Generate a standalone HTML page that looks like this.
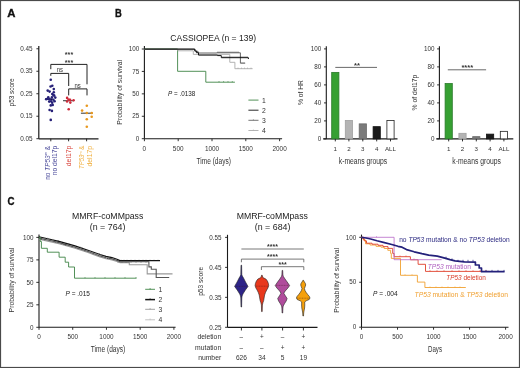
<!DOCTYPE html><html><head><meta charset="utf-8"><style>html,body{margin:0;padding:0;background:#fff;overflow:hidden}svg{display:block;will-change:transform}text{font-family:"Liberation Sans",sans-serif}</style></head><body>
<svg width="520" height="368" viewBox="0 0 520 368">
<rect x="0" y="0" width="520" height="368" fill="#fff"/>
<text x="7.30" y="16.50" font-size="11.6" fill="#111" textLength="8.2" lengthAdjust="spacingAndGlyphs" font-weight="bold" stroke="#111" stroke-width="0.35">A</text>
<text x="115.00" y="16.60" font-size="11.6" fill="#111" textLength="6.8" lengthAdjust="spacingAndGlyphs" font-weight="bold" stroke="#111" stroke-width="0.35">B</text>
<text x="7.40" y="205.00" font-size="11.6" fill="#111" textLength="7.0" lengthAdjust="spacingAndGlyphs" font-weight="bold" stroke="#111" stroke-width="0.35">C</text>
<line x1="38.80" y1="46.00" x2="38.80" y2="138.80" stroke="#1a1a1a" stroke-width="1.2" />
<line x1="38.80" y1="138.80" x2="98.50" y2="138.80" stroke="#1a1a1a" stroke-width="1.2" />
<line x1="36.40" y1="48.78" x2="38.80" y2="48.78" stroke="#1a1a1a" stroke-width="0.9" />
<text x="32.60" y="50.88" font-size="6.5" fill="#333" text-anchor="end" textLength="12.4" lengthAdjust="spacingAndGlyphs" >0.45</text>
<line x1="36.40" y1="71.26" x2="38.80" y2="71.26" stroke="#1a1a1a" stroke-width="0.9" />
<text x="32.60" y="73.36" font-size="6.5" fill="#333" text-anchor="end" textLength="12.4" lengthAdjust="spacingAndGlyphs" >0.35</text>
<line x1="36.40" y1="93.74" x2="38.80" y2="93.74" stroke="#1a1a1a" stroke-width="0.9" />
<text x="32.60" y="95.84" font-size="6.5" fill="#333" text-anchor="end" textLength="12.4" lengthAdjust="spacingAndGlyphs" >0.25</text>
<line x1="36.40" y1="116.22" x2="38.80" y2="116.22" stroke="#1a1a1a" stroke-width="0.9" />
<text x="32.60" y="118.32" font-size="6.5" fill="#333" text-anchor="end" textLength="12.4" lengthAdjust="spacingAndGlyphs" >0.15</text>
<line x1="36.40" y1="138.70" x2="38.80" y2="138.70" stroke="#1a1a1a" stroke-width="0.9" />
<text x="32.60" y="140.80" font-size="6.5" fill="#333" text-anchor="end" textLength="12.4" lengthAdjust="spacingAndGlyphs" >0.05</text>
<line x1="50.80" y1="138.70" x2="50.80" y2="141.30" stroke="#1a1a1a" stroke-width="0.9" />
<line x1="68.60" y1="138.70" x2="68.60" y2="141.30" stroke="#1a1a1a" stroke-width="0.9" />
<line x1="86.60" y1="138.70" x2="86.60" y2="141.30" stroke="#1a1a1a" stroke-width="0.9" />
<text transform="translate(14.00,92.40) rotate(-90)" font-size="8.0" fill="#2a2a2a" text-anchor="middle" textLength="28" lengthAdjust="spacingAndGlyphs" >p53 score</text>
<path d="M50.8,69.2V64.4H87V84.3" stroke="#222" stroke-width="1.0" fill="none" />
<path d="M50.8,75.8V73.4H68.7V86" stroke="#222" stroke-width="1.0" fill="none" />
<path d="M68.7,95.4V88.9H87V95.4" stroke="#222" stroke-width="1.0" fill="none" />
<text x="69.00" y="56.50" font-size="8" fill="#333" text-anchor="middle" textLength="8.3" lengthAdjust="spacingAndGlyphs" font-weight="bold" >***</text>
<text x="69.00" y="64.70" font-size="8" fill="#333" text-anchor="middle" textLength="8.3" lengthAdjust="spacingAndGlyphs" font-weight="bold" >***</text>
<text x="59.90" y="71.80" font-size="7.2" fill="#333" text-anchor="middle" textLength="6.3" lengthAdjust="spacingAndGlyphs" >ns</text>
<text x="77.70" y="88.00" font-size="7.2" fill="#333" text-anchor="middle" textLength="6.3" lengthAdjust="spacingAndGlyphs" >ns</text>
<path d="M45,99.2H52.6" stroke="#1a1a3a" stroke-width="1.6"/>
<circle cx="50.75" cy="79.8" r="1.3" fill="#262078"/>
<circle cx="50.6" cy="86.5" r="1.3" fill="#262078"/>
<circle cx="52.3" cy="85.7" r="1.3" fill="#262078"/>
<circle cx="53.8" cy="89.1" r="1.3" fill="#262078"/>
<circle cx="47.7" cy="90.6" r="1.3" fill="#262078"/>
<circle cx="49.6" cy="91.6" r="1.3" fill="#262078"/>
<circle cx="53.8" cy="92.2" r="1.3" fill="#262078"/>
<circle cx="52.3" cy="94.1" r="1.3" fill="#262078"/>
<circle cx="54.2" cy="95.6" r="1.3" fill="#262078"/>
<circle cx="53.4" cy="95.1" r="1.3" fill="#262078"/>
<circle cx="55.3" cy="97.6" r="1.3" fill="#262078"/>
<circle cx="51.9" cy="97.4" r="1.3" fill="#262078"/>
<circle cx="49.6" cy="99.3" r="1.3" fill="#262078"/>
<circle cx="53.4" cy="99.7" r="1.3" fill="#262078"/>
<circle cx="49.2" cy="101.6" r="1.3" fill="#262078"/>
<circle cx="51.1" cy="101.2" r="1.3" fill="#262078"/>
<circle cx="47.5" cy="98.8" r="1.3" fill="#262078"/>
<circle cx="46.2" cy="99.2" r="1.3" fill="#262078"/>
<circle cx="50.75" cy="105.4" r="1.3" fill="#262078"/>
<circle cx="52.7" cy="105" r="1.3" fill="#262078"/>
<circle cx="49.6" cy="110" r="1.3" fill="#262078"/>
<circle cx="51.9" cy="110.9" r="1.3" fill="#262078"/>
<circle cx="50.75" cy="119.9" r="1.3" fill="#262078"/>
<circle cx="48.3" cy="97.2" r="1.3" fill="#262078"/>
<circle cx="52.2" cy="102.8" r="1.3" fill="#262078"/>
<circle cx="54.6" cy="101.2" r="1.3" fill="#262078"/>
<path d="M63,100.7H74" stroke="#444" stroke-width="1.1"/>
<circle cx="67.1" cy="97.9" r="1.3" fill="#cf2a3a"/>
<circle cx="70.1" cy="99.9" r="1.3" fill="#cf2a3a"/>
<circle cx="73.6" cy="100.2" r="1.3" fill="#cf2a3a"/>
<circle cx="67.1" cy="101.5" r="1.3" fill="#cf2a3a"/>
<circle cx="70.3" cy="102.6" r="1.3" fill="#cf2a3a"/>
<circle cx="68.7" cy="109.3" r="1.3" fill="#cf2a3a"/>
<circle cx="68.6" cy="99.6" r="1.3" fill="#cf2a3a"/>
<path d="M80.9,113.2H92.7" stroke="#444" stroke-width="1.1"/>
<circle cx="86.8" cy="105.7" r="1.3" fill="#e8981e"/>
<circle cx="82.1" cy="110.6" r="1.3" fill="#e8981e"/>
<circle cx="86.8" cy="113" r="1.3" fill="#e8981e"/>
<circle cx="91.7" cy="113" r="1.3" fill="#e8981e"/>
<circle cx="91.7" cy="116.7" r="1.3" fill="#e8981e"/>
<circle cx="86.8" cy="119.3" r="1.3" fill="#e8981e"/>
<circle cx="86.8" cy="126.7" r="1.3" fill="#e8981e"/>
<text transform="translate(49.70,145.80) rotate(-90)" font-size="6.4" fill="#4b4b9b" text-anchor="end" textLength="34.0" lengthAdjust="spacingAndGlyphs" >no <tspan font-style="italic">TP53</tspan><tspan font-size="4" dy="-2.5">m</tspan><tspan dy="2.5"> &amp;</tspan></text>
<text transform="translate(57.20,145.80) rotate(-90)" font-size="6.4" fill="#4b4b9b" text-anchor="end" textLength="29.4" lengthAdjust="spacingAndGlyphs" >no del17p</text>
<text transform="translate(71.00,145.60) rotate(-90)" font-size="6.4" fill="#d9473f" text-anchor="end" textLength="20.7" lengthAdjust="spacingAndGlyphs" >del17p</text>
<text transform="translate(84.00,145.80) rotate(-90)" font-size="6.4" fill="#f0b040" text-anchor="end" textLength="23.1" lengthAdjust="spacingAndGlyphs" ><tspan font-style="italic">TP53</tspan><tspan font-size="4" dy="-2.5">m</tspan><tspan dy="2.5"> &amp;</tspan></text>
<text transform="translate(92.20,145.80) rotate(-90)" font-size="6.4" fill="#f0b040" text-anchor="end" textLength="20.8" lengthAdjust="spacingAndGlyphs" >del17p</text>
<text x="213.20" y="41.20" font-size="8.6" fill="#222" text-anchor="middle" textLength="85.8" lengthAdjust="spacingAndGlyphs" >CASSIOPEA (n = 139)</text>
<line x1="144.40" y1="46.10" x2="144.40" y2="138.70" stroke="#1a1a1a" stroke-width="1.1" />
<line x1="144.40" y1="138.70" x2="282.10" y2="138.70" stroke="#1a1a1a" stroke-width="1.1" />
<line x1="141.80" y1="49.00" x2="144.40" y2="49.00" stroke="#1a1a1a" stroke-width="0.9" />
<text x="139.20" y="51.20" font-size="6.3" fill="#333" text-anchor="end" >100</text>
<line x1="141.80" y1="71.42" x2="144.40" y2="71.42" stroke="#1a1a1a" stroke-width="0.9" />
<text x="139.20" y="73.62" font-size="6.3" fill="#333" text-anchor="end" >75</text>
<line x1="141.80" y1="93.85" x2="144.40" y2="93.85" stroke="#1a1a1a" stroke-width="0.9" />
<text x="139.20" y="96.05" font-size="6.3" fill="#333" text-anchor="end" >50</text>
<line x1="141.80" y1="116.27" x2="144.40" y2="116.27" stroke="#1a1a1a" stroke-width="0.9" />
<text x="139.20" y="118.47" font-size="6.3" fill="#333" text-anchor="end" >25</text>
<line x1="141.80" y1="138.70" x2="144.40" y2="138.70" stroke="#1a1a1a" stroke-width="0.9" />
<text x="139.20" y="140.90" font-size="6.3" fill="#333" text-anchor="end" >0</text>
<line x1="144.40" y1="138.80" x2="144.40" y2="141.20" stroke="#1a1a1a" stroke-width="0.9" />
<text x="144.40" y="151.00" font-size="6.4" fill="#333" text-anchor="middle" >0</text>
<line x1="178.20" y1="138.80" x2="178.20" y2="141.20" stroke="#1a1a1a" stroke-width="0.9" />
<text x="178.20" y="151.00" font-size="6.4" fill="#333" text-anchor="middle" >500</text>
<line x1="212.00" y1="138.80" x2="212.00" y2="141.20" stroke="#1a1a1a" stroke-width="0.9" />
<text x="212.00" y="151.00" font-size="6.4" fill="#333" text-anchor="middle" >1000</text>
<line x1="245.80" y1="138.80" x2="245.80" y2="141.20" stroke="#1a1a1a" stroke-width="0.9" />
<text x="245.80" y="151.00" font-size="6.4" fill="#333" text-anchor="middle" >1500</text>
<line x1="279.60" y1="138.80" x2="279.60" y2="141.20" stroke="#1a1a1a" stroke-width="0.9" />
<text x="279.60" y="151.00" font-size="6.4" fill="#333" text-anchor="middle" >2000</text>
<text x="213.70" y="163.50" font-size="8.4" fill="#333" text-anchor="middle" textLength="34.4" lengthAdjust="spacingAndGlyphs" >Time (days)</text>
<text transform="translate(121.60,92.30) rotate(-90)" font-size="8.0" fill="#333" text-anchor="middle" textLength="64.8" lengthAdjust="spacingAndGlyphs" >Probability of survival</text>
<text x="168.00" y="95.60" font-size="6.3" fill="#222" textLength="27.2" lengthAdjust="spacingAndGlyphs" ><tspan font-style="italic">P</tspan> = .0138</text>
<path d="M144.4,49.0H177.6V71.3H205.8V82.2H234.9" stroke="#3f8446" stroke-width="0.9" fill="none" />
<path d="M144.4,49.4H177.8V50.8H193.3V54.4H229.8V62.3H234.9V68.7H252.6" stroke="#aaa" stroke-width="0.9" fill="none" />
<path d="M144.4,49.4H195.2V51.3H198V53.0H216.7V52.8H240.4V63.2H245.2" stroke="#555" stroke-width="0.9" fill="none" />
<path d="M144.4,49.0H194.7V50.9H196.4V52.7H198.5V55.1H217.5V55.6H221.3V57.7H248.4V59.0" stroke="#111" stroke-width="1.0" fill="none" />
<line x1="219.00" y1="81.00" x2="219.00" y2="82.20" stroke="#3f8446" stroke-width="0.6" />
<line x1="223.60" y1="81.00" x2="223.60" y2="82.20" stroke="#3f8446" stroke-width="0.6" />
<line x1="228.00" y1="81.00" x2="228.00" y2="82.20" stroke="#3f8446" stroke-width="0.6" />
<line x1="232.30" y1="81.00" x2="232.30" y2="82.20" stroke="#3f8446" stroke-width="0.6" />
<line x1="218.00" y1="51.50" x2="218.00" y2="52.80" stroke="#333" stroke-width="0.7" />
<line x1="220.00" y1="51.50" x2="220.00" y2="52.80" stroke="#333" stroke-width="0.7" />
<line x1="222.00" y1="51.50" x2="222.00" y2="52.80" stroke="#333" stroke-width="0.7" />
<line x1="224.00" y1="51.50" x2="224.00" y2="52.80" stroke="#333" stroke-width="0.7" />
<line x1="226.00" y1="51.50" x2="226.00" y2="52.80" stroke="#333" stroke-width="0.7" />
<line x1="228.00" y1="51.50" x2="228.00" y2="52.80" stroke="#333" stroke-width="0.7" />
<line x1="230.00" y1="51.50" x2="230.00" y2="52.80" stroke="#333" stroke-width="0.7" />
<line x1="232.00" y1="51.50" x2="232.00" y2="52.80" stroke="#333" stroke-width="0.7" />
<line x1="234.00" y1="51.50" x2="234.00" y2="52.80" stroke="#333" stroke-width="0.7" />
<line x1="236.00" y1="51.50" x2="236.00" y2="52.80" stroke="#333" stroke-width="0.7" />
<line x1="238.00" y1="51.50" x2="238.00" y2="52.80" stroke="#333" stroke-width="0.7" />
<line x1="223.00" y1="56.40" x2="223.00" y2="57.70" stroke="#111" stroke-width="0.7" />
<line x1="225.00" y1="56.40" x2="225.00" y2="57.70" stroke="#111" stroke-width="0.7" />
<line x1="227.00" y1="56.40" x2="227.00" y2="57.70" stroke="#111" stroke-width="0.7" />
<line x1="229.00" y1="56.40" x2="229.00" y2="57.70" stroke="#111" stroke-width="0.7" />
<line x1="231.00" y1="56.40" x2="231.00" y2="57.70" stroke="#111" stroke-width="0.7" />
<line x1="233.00" y1="56.40" x2="233.00" y2="57.70" stroke="#111" stroke-width="0.7" />
<line x1="235.00" y1="56.40" x2="235.00" y2="57.70" stroke="#111" stroke-width="0.7" />
<line x1="237.00" y1="56.40" x2="237.00" y2="57.70" stroke="#111" stroke-width="0.7" />
<line x1="239.00" y1="56.40" x2="239.00" y2="57.70" stroke="#111" stroke-width="0.7" />
<line x1="241.00" y1="56.40" x2="241.00" y2="57.70" stroke="#111" stroke-width="0.7" />
<line x1="243.00" y1="56.40" x2="243.00" y2="57.70" stroke="#111" stroke-width="0.7" />
<line x1="245.00" y1="56.40" x2="245.00" y2="57.70" stroke="#111" stroke-width="0.7" />
<line x1="247.00" y1="56.40" x2="247.00" y2="57.70" stroke="#111" stroke-width="0.7" />
<line x1="242.00" y1="62.00" x2="242.00" y2="63.20" stroke="#555" stroke-width="0.5" />
<line x1="244.00" y1="62.00" x2="244.00" y2="63.20" stroke="#555" stroke-width="0.5" />
<line x1="238.00" y1="67.50" x2="238.00" y2="68.70" stroke="#999" stroke-width="0.5" />
<line x1="241.50" y1="67.50" x2="241.50" y2="68.70" stroke="#999" stroke-width="0.5" />
<line x1="244.50" y1="67.50" x2="244.50" y2="68.70" stroke="#999" stroke-width="0.5" />
<line x1="247.50" y1="67.50" x2="247.50" y2="68.70" stroke="#999" stroke-width="0.5" />
<line x1="251.00" y1="67.50" x2="251.00" y2="68.70" stroke="#999" stroke-width="0.5" />
<line x1="248.40" y1="100.10" x2="258.50" y2="100.10" stroke="#3f8446" stroke-width="0.9" />
<text x="262.00" y="102.50" font-size="6.8" fill="#333" >1</text>
<line x1="248.40" y1="110.20" x2="258.50" y2="110.20" stroke="#111" stroke-width="0.9" />
<text x="262.00" y="112.60" font-size="6.8" fill="#333" >2</text>
<line x1="248.40" y1="120.30" x2="258.50" y2="120.30" stroke="#666" stroke-width="0.9" />
<text x="262.00" y="122.70" font-size="6.8" fill="#333" >3</text>
<line x1="248.40" y1="130.50" x2="258.50" y2="130.50" stroke="#aaa" stroke-width="0.9" />
<text x="262.00" y="132.90" font-size="6.8" fill="#333" >4</text>
<line x1="253.40" y1="119.30" x2="253.40" y2="120.30" stroke="#666" stroke-width="0.6" />
<line x1="253.40" y1="129.50" x2="253.40" y2="130.50" stroke="#aaa" stroke-width="0.6" />
<line x1="326.30" y1="46.20" x2="326.30" y2="138.90" stroke="#1a1a1a" stroke-width="1.1" />
<line x1="323.10" y1="138.90" x2="397.50" y2="138.90" stroke="#1a1a1a" stroke-width="1.1" />
<line x1="324.00" y1="48.90" x2="326.30" y2="48.90" stroke="#1a1a1a" stroke-width="0.9" />
<text x="321.30" y="51.40" font-size="6.3" fill="#333" text-anchor="end" >100</text>
<line x1="324.00" y1="66.90" x2="326.30" y2="66.90" stroke="#1a1a1a" stroke-width="0.9" />
<text x="321.30" y="69.40" font-size="6.3" fill="#333" text-anchor="end" >80</text>
<line x1="324.00" y1="84.90" x2="326.30" y2="84.90" stroke="#1a1a1a" stroke-width="0.9" />
<text x="321.30" y="87.40" font-size="6.3" fill="#333" text-anchor="end" >60</text>
<line x1="324.00" y1="102.90" x2="326.30" y2="102.90" stroke="#1a1a1a" stroke-width="0.9" />
<text x="321.30" y="105.40" font-size="6.3" fill="#333" text-anchor="end" >40</text>
<line x1="324.00" y1="120.90" x2="326.30" y2="120.90" stroke="#1a1a1a" stroke-width="0.9" />
<text x="321.30" y="123.40" font-size="6.3" fill="#333" text-anchor="end" >20</text>
<line x1="324.00" y1="138.90" x2="326.30" y2="138.90" stroke="#1a1a1a" stroke-width="0.9" />
<text x="321.30" y="141.40" font-size="6.3" fill="#333" text-anchor="end" >0</text>
<rect x="331.70" y="72.39" width="7.2" height="66.51" fill="#36a032" stroke="#2a7a2a" stroke-width="0.8"/>
<line x1="335.30" y1="138.90" x2="335.30" y2="141.40" stroke="#1a1a1a" stroke-width="0.9" />
<text x="335.30" y="150.70" font-size="6.2" fill="#333" text-anchor="middle" >1</text>
<rect x="345.30" y="120.45" width="7.2" height="18.45" fill="#b4b4b4" stroke="#a0a0a0" stroke-width="0.8"/>
<line x1="348.90" y1="138.90" x2="348.90" y2="141.40" stroke="#1a1a1a" stroke-width="0.9" />
<text x="348.90" y="150.70" font-size="6.2" fill="#333" text-anchor="middle" >2</text>
<rect x="359.20" y="123.87" width="7.2" height="15.03" fill="#7a7a7a" stroke="#6a6a6a" stroke-width="0.8"/>
<line x1="362.80" y1="138.90" x2="362.80" y2="141.40" stroke="#1a1a1a" stroke-width="0.9" />
<text x="362.80" y="150.70" font-size="6.2" fill="#333" text-anchor="middle" >3</text>
<rect x="373.10" y="126.66" width="7.2" height="12.24" fill="#1a1a1a" stroke="#111" stroke-width="0.8"/>
<line x1="376.70" y1="138.90" x2="376.70" y2="141.40" stroke="#1a1a1a" stroke-width="0.9" />
<text x="376.70" y="150.70" font-size="6.2" fill="#333" text-anchor="middle" >4</text>
<rect x="386.90" y="120.45" width="7.2" height="18.45" fill="#ffffff" stroke="#222" stroke-width="0.8"/>
<line x1="390.50" y1="138.90" x2="390.50" y2="141.40" stroke="#1a1a1a" stroke-width="0.9" />
<text x="390.50" y="150.70" font-size="6.2" fill="#333" text-anchor="middle" >ALL</text>
<text x="363.00" y="163.60" font-size="8.5" fill="#333" text-anchor="middle" textLength="48.5" lengthAdjust="spacingAndGlyphs" >k-means groups</text>
<text transform="translate(303.30,92.60) rotate(-90)" font-size="7.8" fill="#333" text-anchor="middle" textLength="25.0" lengthAdjust="spacingAndGlyphs" >% of HR</text>
<line x1="335.30" y1="67.40" x2="377.00" y2="67.40" stroke="#444" stroke-width="0.8" />
<text x="357.00" y="67.90" font-size="7.6" fill="#333" text-anchor="middle" font-weight="bold" >**</text>
<line x1="439.40" y1="46.20" x2="439.40" y2="138.90" stroke="#1a1a1a" stroke-width="1.1" />
<line x1="436.20" y1="138.90" x2="513.30" y2="138.90" stroke="#1a1a1a" stroke-width="1.1" />
<line x1="437.10" y1="48.90" x2="439.40" y2="48.90" stroke="#1a1a1a" stroke-width="0.9" />
<text x="434.40" y="51.40" font-size="6.3" fill="#333" text-anchor="end" >100</text>
<line x1="437.10" y1="66.90" x2="439.40" y2="66.90" stroke="#1a1a1a" stroke-width="0.9" />
<text x="434.40" y="69.40" font-size="6.3" fill="#333" text-anchor="end" >80</text>
<line x1="437.10" y1="84.90" x2="439.40" y2="84.90" stroke="#1a1a1a" stroke-width="0.9" />
<text x="434.40" y="87.40" font-size="6.3" fill="#333" text-anchor="end" >60</text>
<line x1="437.10" y1="102.90" x2="439.40" y2="102.90" stroke="#1a1a1a" stroke-width="0.9" />
<text x="434.40" y="105.40" font-size="6.3" fill="#333" text-anchor="end" >40</text>
<line x1="437.10" y1="120.90" x2="439.40" y2="120.90" stroke="#1a1a1a" stroke-width="0.9" />
<text x="434.40" y="123.40" font-size="6.3" fill="#333" text-anchor="end" >20</text>
<line x1="437.10" y1="138.90" x2="439.40" y2="138.90" stroke="#1a1a1a" stroke-width="0.9" />
<text x="434.40" y="141.40" font-size="6.3" fill="#333" text-anchor="end" >0</text>
<rect x="445.10" y="83.55" width="7.2" height="55.35" fill="#36a032" stroke="#2a7a2a" stroke-width="0.8"/>
<line x1="448.70" y1="138.90" x2="448.70" y2="141.40" stroke="#1a1a1a" stroke-width="0.9" />
<text x="448.70" y="150.70" font-size="6.2" fill="#333" text-anchor="middle" >1</text>
<rect x="458.90" y="133.32" width="7.2" height="5.58" fill="#b4b4b4" stroke="#a0a0a0" stroke-width="0.8"/>
<line x1="462.50" y1="138.90" x2="462.50" y2="141.40" stroke="#1a1a1a" stroke-width="0.9" />
<text x="462.50" y="150.70" font-size="6.2" fill="#333" text-anchor="middle" >2</text>
<rect x="472.70" y="136.65" width="7.2" height="2.25" fill="#7a7a7a" stroke="#6a6a6a" stroke-width="0.8"/>
<line x1="476.30" y1="138.90" x2="476.30" y2="141.40" stroke="#1a1a1a" stroke-width="0.9" />
<text x="476.30" y="150.70" font-size="6.2" fill="#333" text-anchor="middle" >3</text>
<rect x="486.50" y="134.13" width="7.2" height="4.77" fill="#1a1a1a" stroke="#111" stroke-width="0.8"/>
<line x1="490.10" y1="138.90" x2="490.10" y2="141.40" stroke="#1a1a1a" stroke-width="0.9" />
<text x="490.10" y="150.70" font-size="6.2" fill="#333" text-anchor="middle" >4</text>
<rect x="500.30" y="131.34" width="7.2" height="7.56" fill="#ffffff" stroke="#222" stroke-width="0.8"/>
<line x1="503.90" y1="138.90" x2="503.90" y2="141.40" stroke="#1a1a1a" stroke-width="0.9" />
<text x="503.90" y="150.70" font-size="6.2" fill="#333" text-anchor="middle" >ALL</text>
<text x="476.60" y="163.60" font-size="8.5" fill="#333" text-anchor="middle" textLength="48.5" lengthAdjust="spacingAndGlyphs" >k-means groups</text>
<text transform="translate(416.60,92.60) rotate(-90)" font-size="7.8" fill="#333" text-anchor="middle" textLength="35.6" lengthAdjust="spacingAndGlyphs" >% of del17p</text>
<line x1="447.80" y1="69.80" x2="486.10" y2="69.80" stroke="#444" stroke-width="0.8" />
<text x="467.30" y="70.30" font-size="7.6" fill="#333" text-anchor="middle" font-weight="bold" >****</text>
<text x="107.70" y="219.30" font-size="8.6" fill="#222" text-anchor="middle" textLength="71.3" lengthAdjust="spacingAndGlyphs" >MMRF-coMMpass</text>
<text x="107.60" y="229.60" font-size="8.6" fill="#222" text-anchor="middle" textLength="35.6" lengthAdjust="spacingAndGlyphs" >(n = 764)</text>
<line x1="39.00" y1="234.40" x2="39.00" y2="327.30" stroke="#1a1a1a" stroke-width="1.1" />
<line x1="39.00" y1="327.30" x2="175.60" y2="327.30" stroke="#1a1a1a" stroke-width="1.1" />
<line x1="36.30" y1="237.40" x2="39.00" y2="237.40" stroke="#1a1a1a" stroke-width="0.9" />
<text x="33.40" y="239.60" font-size="6.3" fill="#333" text-anchor="end" >100</text>
<line x1="36.30" y1="259.88" x2="39.00" y2="259.88" stroke="#1a1a1a" stroke-width="0.9" />
<text x="33.40" y="262.07" font-size="6.3" fill="#333" text-anchor="end" >75</text>
<line x1="36.30" y1="282.35" x2="39.00" y2="282.35" stroke="#1a1a1a" stroke-width="0.9" />
<text x="33.40" y="284.55" font-size="6.3" fill="#333" text-anchor="end" >50</text>
<line x1="36.30" y1="304.82" x2="39.00" y2="304.82" stroke="#1a1a1a" stroke-width="0.9" />
<text x="33.40" y="307.02" font-size="6.3" fill="#333" text-anchor="end" >25</text>
<line x1="36.30" y1="327.30" x2="39.00" y2="327.30" stroke="#1a1a1a" stroke-width="0.9" />
<text x="33.40" y="329.50" font-size="6.3" fill="#333" text-anchor="end" >0</text>
<line x1="39.00" y1="327.30" x2="39.00" y2="329.80" stroke="#1a1a1a" stroke-width="0.9" />
<text x="39.00" y="339.20" font-size="6.4" fill="#333" text-anchor="middle" >0</text>
<line x1="72.72" y1="327.30" x2="72.72" y2="329.80" stroke="#1a1a1a" stroke-width="0.9" />
<text x="72.72" y="339.20" font-size="6.4" fill="#333" text-anchor="middle" >500</text>
<line x1="106.45" y1="327.30" x2="106.45" y2="329.80" stroke="#1a1a1a" stroke-width="0.9" />
<text x="106.45" y="339.20" font-size="6.4" fill="#333" text-anchor="middle" >1000</text>
<line x1="140.18" y1="327.30" x2="140.18" y2="329.80" stroke="#1a1a1a" stroke-width="0.9" />
<text x="140.18" y="339.20" font-size="6.4" fill="#333" text-anchor="middle" >1500</text>
<line x1="173.90" y1="327.30" x2="173.90" y2="329.80" stroke="#1a1a1a" stroke-width="0.9" />
<text x="173.90" y="339.20" font-size="6.4" fill="#333" text-anchor="middle" >2000</text>
<text x="108.00" y="352.30" font-size="8.4" fill="#333" text-anchor="middle" textLength="34.6" lengthAdjust="spacingAndGlyphs" >Time (days)</text>
<text transform="translate(14.20,280.05) rotate(-90)" font-size="8.0" fill="#333" text-anchor="middle" textLength="64.7" lengthAdjust="spacingAndGlyphs" >Probability of survival</text>
<text x="65.50" y="295.50" font-size="6.3" fill="#222" textLength="24.5" lengthAdjust="spacingAndGlyphs" ><tspan font-style="italic">P</tspan> = .015</text>
<path d="M38.90,239.20 L50.00,241.60 L60.00,244.00 L75.00,248.30 L88.00,252.60 L100.00,257.00 L106.00,258.80 L112.00,260.00 L117.00,261.60L120,262.6H129.3V264.8H147.2V273.9H172.5" stroke="#999" stroke-width="1.1" fill="none" />
<path d="M38.90,238.10 L50.00,240.50 L60.00,242.90 L75.00,247.20 L88.00,251.50 L100.00,255.90 L106.00,257.70 L112.00,258.90 L117.00,260.50L120,261.8H148.9V266.9H151.3V269.3H156.2V277.5H169.2" stroke="#555" stroke-width="1.1" fill="none" />
<path d="M38.90,236.80 L50.00,239.20 L60.00,241.60 L75.00,245.90 L88.00,250.20 L100.00,254.60 L106.00,256.40 L112.00,257.60 L117.00,259.20L120,260.6H160" stroke="#111" stroke-width="1.1" fill="none" />
<line x1="41.58" y1="238.68" x2="41.58" y2="239.68" stroke="#222" stroke-width="0.6" />
<line x1="44.49" y1="239.31" x2="44.49" y2="240.31" stroke="#555" stroke-width="0.6" />
<line x1="47.60" y1="237.68" x2="47.60" y2="238.68" stroke="#888" stroke-width="0.6" />
<line x1="49.32" y1="239.25" x2="49.32" y2="240.25" stroke="#555" stroke-width="0.6" />
<line x1="52.88" y1="238.89" x2="52.88" y2="239.89" stroke="#888" stroke-width="0.6" />
<line x1="55.45" y1="241.81" x2="55.45" y2="242.81" stroke="#555" stroke-width="0.6" />
<line x1="58.04" y1="240.13" x2="58.04" y2="241.13" stroke="#222" stroke-width="0.6" />
<line x1="61.12" y1="243.22" x2="61.12" y2="244.22" stroke="#555" stroke-width="0.6" />
<line x1="63.99" y1="244.04" x2="63.99" y2="245.04" stroke="#222" stroke-width="0.6" />
<line x1="65.76" y1="244.55" x2="65.76" y2="245.55" stroke="#222" stroke-width="0.6" />
<line x1="68.68" y1="243.09" x2="68.68" y2="244.09" stroke="#555" stroke-width="0.6" />
<line x1="71.66" y1="246.24" x2="71.66" y2="247.24" stroke="#555" stroke-width="0.6" />
<line x1="74.74" y1="246.03" x2="74.74" y2="247.03" stroke="#555" stroke-width="0.6" />
<line x1="77.47" y1="248.02" x2="77.47" y2="249.02" stroke="#555" stroke-width="0.6" />
<line x1="80.54" y1="246.73" x2="80.54" y2="247.73" stroke="#555" stroke-width="0.6" />
<line x1="81.86" y1="247.17" x2="81.86" y2="248.17" stroke="#555" stroke-width="0.6" />
<line x1="84.75" y1="250.42" x2="84.75" y2="251.42" stroke="#555" stroke-width="0.6" />
<line x1="88.35" y1="250.53" x2="88.35" y2="251.53" stroke="#555" stroke-width="0.6" />
<line x1="90.61" y1="251.36" x2="90.61" y2="252.36" stroke="#888" stroke-width="0.6" />
<line x1="93.06" y1="253.36" x2="93.06" y2="254.36" stroke="#555" stroke-width="0.6" />
<line x1="96.13" y1="253.38" x2="96.13" y2="254.38" stroke="#888" stroke-width="0.6" />
<line x1="99.37" y1="253.37" x2="99.37" y2="254.37" stroke="#555" stroke-width="0.6" />
<line x1="102.19" y1="256.56" x2="102.19" y2="257.56" stroke="#888" stroke-width="0.6" />
<line x1="103.56" y1="255.87" x2="103.56" y2="256.87" stroke="#888" stroke-width="0.6" />
<line x1="107.45" y1="257.99" x2="107.45" y2="258.99" stroke="#222" stroke-width="0.6" />
<line x1="109.84" y1="256.17" x2="109.84" y2="257.17" stroke="#888" stroke-width="0.6" />
<line x1="118.00" y1="259.80" x2="118.00" y2="260.80" stroke="#222" stroke-width="0.6" />
<line x1="121.00" y1="259.80" x2="121.00" y2="260.80" stroke="#222" stroke-width="0.6" />
<line x1="124.00" y1="259.80" x2="124.00" y2="260.80" stroke="#222" stroke-width="0.6" />
<line x1="127.00" y1="259.80" x2="127.00" y2="260.80" stroke="#222" stroke-width="0.6" />
<line x1="131.00" y1="259.80" x2="131.00" y2="260.80" stroke="#222" stroke-width="0.6" />
<line x1="135.00" y1="259.80" x2="135.00" y2="260.80" stroke="#222" stroke-width="0.6" />
<line x1="139.00" y1="259.80" x2="139.00" y2="260.80" stroke="#222" stroke-width="0.6" />
<line x1="143.00" y1="259.80" x2="143.00" y2="260.80" stroke="#222" stroke-width="0.6" />
<line x1="146.00" y1="259.80" x2="146.00" y2="260.80" stroke="#222" stroke-width="0.6" />
<line x1="150.00" y1="259.80" x2="150.00" y2="260.80" stroke="#222" stroke-width="0.6" />
<line x1="154.00" y1="259.80" x2="154.00" y2="260.80" stroke="#222" stroke-width="0.6" />
<line x1="158.00" y1="259.80" x2="158.00" y2="260.80" stroke="#222" stroke-width="0.6" />
<line x1="118.00" y1="261.80" x2="118.00" y2="262.80" stroke="#666" stroke-width="0.6" />
<line x1="122.00" y1="261.80" x2="122.00" y2="262.80" stroke="#666" stroke-width="0.6" />
<line x1="126.00" y1="261.80" x2="126.00" y2="262.80" stroke="#666" stroke-width="0.6" />
<line x1="131.00" y1="261.80" x2="131.00" y2="262.80" stroke="#666" stroke-width="0.6" />
<line x1="136.00" y1="261.80" x2="136.00" y2="262.80" stroke="#666" stroke-width="0.6" />
<line x1="141.00" y1="261.80" x2="141.00" y2="262.80" stroke="#666" stroke-width="0.6" />
<line x1="146.00" y1="261.80" x2="146.00" y2="262.80" stroke="#666" stroke-width="0.6" />
<path d="M38.9,237.3H40.2V241.5H41.4V248.3H47.3V252.2H59.1V257.2H65.2V262.2H68.6V267H74.5V278.2H136.5" stroke="#3f8446" stroke-width="0.9" fill="none" />
<line x1="85.00" y1="277.00" x2="85.00" y2="278.20" stroke="#3f8446" stroke-width="0.6" />
<line x1="95.00" y1="277.00" x2="95.00" y2="278.20" stroke="#3f8446" stroke-width="0.6" />
<line x1="105.00" y1="277.00" x2="105.00" y2="278.20" stroke="#3f8446" stroke-width="0.6" />
<line x1="115.00" y1="277.00" x2="115.00" y2="278.20" stroke="#3f8446" stroke-width="0.6" />
<line x1="125.00" y1="277.00" x2="125.00" y2="278.20" stroke="#3f8446" stroke-width="0.6" />
<line x1="136.00" y1="277.00" x2="136.00" y2="278.20" stroke="#3f8446" stroke-width="0.6" />
<line x1="145.20" y1="289.30" x2="155.00" y2="289.30" stroke="#3f8446" stroke-width="0.9" />
<line x1="150.10" y1="288.00" x2="150.10" y2="289.60" stroke="#3f8446" stroke-width="0.7" />
<text x="158.40" y="291.70" font-size="6.8" fill="#333" >1</text>
<line x1="145.20" y1="299.60" x2="155.00" y2="299.60" stroke="#111" stroke-width="1.5" />
<line x1="150.10" y1="298.30" x2="150.10" y2="299.90" stroke="#111" stroke-width="0.7" />
<text x="158.40" y="302.00" font-size="6.8" fill="#333" >2</text>
<line x1="145.20" y1="309.30" x2="155.00" y2="309.30" stroke="#999" stroke-width="0.9" />
<line x1="150.10" y1="308.00" x2="150.10" y2="309.60" stroke="#999" stroke-width="0.7" />
<text x="158.40" y="311.70" font-size="6.8" fill="#333" >3</text>
<line x1="145.20" y1="319.80" x2="155.00" y2="319.80" stroke="#bbb" stroke-width="0.9" />
<line x1="150.10" y1="318.50" x2="150.10" y2="320.10" stroke="#bbb" stroke-width="0.7" />
<text x="158.40" y="322.20" font-size="6.8" fill="#333" >4</text>
<text x="272.30" y="218.50" font-size="8.6" fill="#222" text-anchor="middle" textLength="71.3" lengthAdjust="spacingAndGlyphs" >MMRF-coMMpass</text>
<text x="272.60" y="230.00" font-size="8.6" fill="#222" text-anchor="middle" textLength="35.6" lengthAdjust="spacingAndGlyphs" >(n = 684)</text>
<line x1="227.50" y1="234.80" x2="227.50" y2="327.40" stroke="#1a1a1a" stroke-width="1.1" />
<line x1="227.50" y1="327.40" x2="317.50" y2="327.40" stroke="#1a1a1a" stroke-width="1.1" />
<line x1="225.10" y1="237.39" x2="227.50" y2="237.39" stroke="#1a1a1a" stroke-width="0.9" />
<text x="221.60" y="239.59" font-size="6.3" fill="#333" text-anchor="end" >0.55</text>
<line x1="225.10" y1="267.36" x2="227.50" y2="267.36" stroke="#1a1a1a" stroke-width="0.9" />
<text x="221.60" y="269.56" font-size="6.3" fill="#333" text-anchor="end" >0.45</text>
<line x1="225.10" y1="297.33" x2="227.50" y2="297.33" stroke="#1a1a1a" stroke-width="0.9" />
<text x="221.60" y="299.53" font-size="6.3" fill="#333" text-anchor="end" >0.35</text>
<line x1="225.10" y1="327.30" x2="227.50" y2="327.30" stroke="#1a1a1a" stroke-width="0.9" />
<text x="221.60" y="329.50" font-size="6.3" fill="#333" text-anchor="end" >0.25</text>
<line x1="241.40" y1="327.40" x2="241.40" y2="330.50" stroke="#1a1a1a" stroke-width="0.9" />
<line x1="261.90" y1="327.40" x2="261.90" y2="330.50" stroke="#1a1a1a" stroke-width="0.9" />
<line x1="282.60" y1="327.40" x2="282.60" y2="330.50" stroke="#1a1a1a" stroke-width="0.9" />
<line x1="303.40" y1="327.40" x2="303.40" y2="330.50" stroke="#1a1a1a" stroke-width="0.9" />
<text transform="translate(203.40,281.40) rotate(-90)" font-size="7.2" fill="#333" text-anchor="middle" textLength="28.9" lengthAdjust="spacingAndGlyphs" >p53 score</text>
<text x="221.20" y="339.20" font-size="6.8" fill="#333" text-anchor="end" >deletion</text>
<text x="221.20" y="349.50" font-size="6.8" fill="#333" text-anchor="end" >mutation</text>
<text x="221.20" y="359.70" font-size="6.8" fill="#333" text-anchor="end" >number</text>
<text x="241.40" y="339.20" font-size="6.4" fill="#333" text-anchor="middle" >–</text>
<text x="241.40" y="349.50" font-size="6.4" fill="#333" text-anchor="middle" >–</text>
<text x="241.40" y="359.70" font-size="6.6" fill="#333" text-anchor="middle" >626</text>
<text x="261.90" y="339.20" font-size="6.4" fill="#333" text-anchor="middle" >+</text>
<text x="261.90" y="349.50" font-size="6.4" fill="#333" text-anchor="middle" >–</text>
<text x="261.90" y="359.70" font-size="6.6" fill="#333" text-anchor="middle" >34</text>
<text x="282.60" y="339.20" font-size="6.4" fill="#333" text-anchor="middle" >–</text>
<text x="282.60" y="349.50" font-size="6.4" fill="#333" text-anchor="middle" >+</text>
<text x="282.60" y="359.70" font-size="6.6" fill="#333" text-anchor="middle" >5</text>
<text x="303.40" y="339.20" font-size="6.4" fill="#333" text-anchor="middle" >+</text>
<text x="303.40" y="349.50" font-size="6.4" fill="#333" text-anchor="middle" >+</text>
<text x="303.40" y="359.70" font-size="6.6" fill="#333" text-anchor="middle" >19</text>
<line x1="241.40" y1="249.00" x2="303.80" y2="249.00" stroke="#555" stroke-width="0.8" />
<path d="M241.4,262.3V259.1H303.8V262.3" stroke="#555" stroke-width="0.8" fill="none" />
<path d="M261.4,270V266.7H303.8V270" stroke="#555" stroke-width="0.8" fill="none" />
<text x="272.50" y="248.60" font-size="7.6" fill="#333" text-anchor="middle" textLength="10.9" lengthAdjust="spacingAndGlyphs" font-weight="bold" >****</text>
<text x="272.50" y="258.80" font-size="7.6" fill="#333" text-anchor="middle" textLength="10.9" lengthAdjust="spacingAndGlyphs" font-weight="bold" >****</text>
<text x="282.60" y="267.30" font-size="7.6" fill="#333" text-anchor="middle" textLength="8.2" lengthAdjust="spacingAndGlyphs" font-weight="bold" >***</text>
<polygon points="241.00,265.20 240.80,274.50 240.30,276.00 239.10,278.00 237.10,282.00 234.60,286.40 237.20,290.00 239.70,294.00 240.50,296.00 240.80,298.00 241.00,307.00 241.60,307.00 241.80,298.00 242.10,296.00 242.90,294.00 245.40,290.00 248.00,286.40 245.50,282.00 243.50,278.00 242.30,276.00 241.80,274.50 241.60,265.20" fill="#2d2488" stroke="#222" stroke-width="0.6" stroke-linejoin="round"/>
<polygon points="261.60,275.20 260.90,277.60 257.90,279.00 256.40,281.00 255.40,283.50 255.10,285.80 255.90,288.00 257.10,290.00 258.30,292.50 259.20,295.00 259.70,298.00 260.10,300.50 260.90,302.80 261.40,305.00 261.60,311.60 262.20,311.60 262.40,305.00 262.90,302.80 263.70,300.50 264.10,298.00 264.60,295.00 265.50,292.50 266.70,290.00 267.90,288.00 268.70,285.80 268.40,283.50 267.40,281.00 265.90,279.00 262.90,277.60 262.20,275.20" fill="#e8381c" stroke="#222" stroke-width="0.6" stroke-linejoin="round"/>
<polygon points="282.10,270.40 281.90,275.00 281.40,276.50 279.80,279.00 277.60,282.00 275.20,285.60 276.90,288.00 279.60,291.00 281.00,293.20 279.60,295.50 277.70,298.50 278.60,301.00 280.20,303.50 281.60,306.00 281.90,308.00 282.10,313.00 282.70,313.00 282.90,308.00 283.20,306.00 284.60,303.50 286.20,301.00 287.10,298.50 285.20,295.50 283.80,293.20 285.20,291.00 287.90,288.00 289.60,285.60 287.20,282.00 285.00,279.00 283.40,276.50 282.90,275.00 282.70,270.40" fill="#b04c9c" stroke="#222" stroke-width="0.6" stroke-linejoin="round"/>
<polygon points="302.90,280.30 302.00,282.00 301.00,283.50 300.70,285.00 301.20,286.50 302.00,288.60 301.40,290.50 300.20,292.50 298.70,294.50 297.00,296.50 296.40,298.00 297.20,299.50 300.20,300.80 301.70,302.00 301.60,305.00 301.80,308.00 302.40,311.00 302.70,313.00 302.90,316.00 303.50,316.00 303.70,313.00 304.00,311.00 304.60,308.00 304.80,305.00 304.70,302.00 306.20,300.80 309.20,299.50 310.00,298.00 309.40,296.50 307.70,294.50 306.20,292.50 305.00,290.50 304.40,288.60 305.20,286.50 305.70,285.00 305.40,283.50 304.40,282.00 303.50,280.30" fill="#f5a00c" stroke="#222" stroke-width="0.6" stroke-linejoin="round"/>
<line x1="235.80" y1="286.40" x2="246.80" y2="286.40" stroke="#3a1a1a" stroke-width="0.4" stroke-dasharray="1,0.6"/>
<line x1="255.90" y1="286.20" x2="267.90" y2="286.20" stroke="#3a1a1a" stroke-width="0.4" stroke-dasharray="1,0.6"/>
<line x1="275.90" y1="285.40" x2="288.90" y2="285.40" stroke="#3a1a1a" stroke-width="0.4" stroke-dasharray="1,0.6"/>
<line x1="297.20" y1="298.20" x2="309.20" y2="298.20" stroke="#3a1a1a" stroke-width="0.4" stroke-dasharray="1,0.6"/>
<line x1="361.50" y1="234.60" x2="361.50" y2="327.30" stroke="#1a1a1a" stroke-width="1.1" />
<line x1="361.50" y1="327.30" x2="508.50" y2="327.30" stroke="#1a1a1a" stroke-width="1.1" />
<line x1="359.20" y1="237.30" x2="361.50" y2="237.30" stroke="#1a1a1a" stroke-width="0.9" />
<text x="356.30" y="239.50" font-size="6.3" fill="#333" text-anchor="end" >100</text>
<line x1="359.20" y1="282.25" x2="361.50" y2="282.25" stroke="#1a1a1a" stroke-width="0.9" />
<text x="356.30" y="284.45" font-size="6.3" fill="#333" text-anchor="end" >50</text>
<line x1="359.20" y1="327.20" x2="361.50" y2="327.20" stroke="#1a1a1a" stroke-width="0.9" />
<text x="356.30" y="329.40" font-size="6.3" fill="#333" text-anchor="end" >0</text>
<line x1="361.50" y1="327.30" x2="361.50" y2="329.70" stroke="#1a1a1a" stroke-width="0.9" />
<text x="361.50" y="339.20" font-size="6.4" fill="#333" text-anchor="middle" >0</text>
<line x1="397.52" y1="327.30" x2="397.52" y2="329.70" stroke="#1a1a1a" stroke-width="0.9" />
<text x="397.52" y="339.20" font-size="6.4" fill="#333" text-anchor="middle" >500</text>
<line x1="433.55" y1="327.30" x2="433.55" y2="329.70" stroke="#1a1a1a" stroke-width="0.9" />
<text x="433.55" y="339.20" font-size="6.4" fill="#333" text-anchor="middle" >1000</text>
<line x1="469.57" y1="327.30" x2="469.57" y2="329.70" stroke="#1a1a1a" stroke-width="0.9" />
<text x="469.57" y="339.20" font-size="6.4" fill="#333" text-anchor="middle" >1500</text>
<line x1="505.60" y1="327.30" x2="505.60" y2="329.70" stroke="#1a1a1a" stroke-width="0.9" />
<text x="505.60" y="339.20" font-size="6.4" fill="#333" text-anchor="middle" >2000</text>
<text x="435.00" y="352.30" font-size="8.4" fill="#333" text-anchor="middle" textLength="14.0" lengthAdjust="spacingAndGlyphs" >Days</text>
<text transform="translate(338.60,280.30) rotate(-90)" font-size="8.0" fill="#333" text-anchor="middle" textLength="64.8" lengthAdjust="spacingAndGlyphs" >Probability of survival</text>
<text x="373.00" y="296.00" font-size="6.3" fill="#222" textLength="24.6" lengthAdjust="spacingAndGlyphs" ><tspan font-style="italic">P</tspan> = .004</text>
<path d="M361.5,237.3H363.5V240H365.5V243.8H370V245H376V246.3H381V247.2H384.2V248.5H387.8V250.3H390.6V253.4H391.3V258.4H400.5V275.3H417.4V282.1H424.9V287.5H465.8" stroke="#f0a030" stroke-width="0.9" fill="none" />
<line x1="405.00" y1="274.30" x2="405.00" y2="275.30" stroke="#f0a030" stroke-width="0.6" />
<line x1="412.00" y1="274.30" x2="412.00" y2="275.30" stroke="#f0a030" stroke-width="0.6" />
<line x1="430.00" y1="286.50" x2="430.00" y2="287.50" stroke="#f0a030" stroke-width="0.6" />
<line x1="436.00" y1="286.50" x2="436.00" y2="287.50" stroke="#f0a030" stroke-width="0.6" />
<line x1="442.00" y1="286.50" x2="442.00" y2="287.50" stroke="#f0a030" stroke-width="0.6" />
<line x1="448.00" y1="286.50" x2="448.00" y2="287.50" stroke="#f0a030" stroke-width="0.6" />
<line x1="455.00" y1="286.50" x2="455.00" y2="287.50" stroke="#f0a030" stroke-width="0.6" />
<line x1="460.00" y1="286.50" x2="460.00" y2="287.50" stroke="#f0a030" stroke-width="0.6" />
<path d="M361.5,237.3H362.7V238.8H364.3V240.9H366.5V243.2H372V244.2H378V245.3H383V246.6H388V248.4H392.7V253.4H394.1V256.7H410.4V259.8H418.1V264.3H425.5V271.4H489.2" stroke="#e0402a" stroke-width="0.9" fill="none" />
<line x1="400.00" y1="255.50" x2="400.00" y2="256.70" stroke="#e0402a" stroke-width="0.6" />
<line x1="406.00" y1="255.50" x2="406.00" y2="256.70" stroke="#e0402a" stroke-width="0.6" />
<line x1="414.00" y1="258.60" x2="414.00" y2="259.80" stroke="#e0402a" stroke-width="0.6" />
<line x1="430.00" y1="270.20" x2="430.00" y2="271.40" stroke="#e0402a" stroke-width="0.6" />
<line x1="437.00" y1="270.20" x2="437.00" y2="271.40" stroke="#e0402a" stroke-width="0.6" />
<line x1="444.00" y1="270.20" x2="444.00" y2="271.40" stroke="#e0402a" stroke-width="0.6" />
<line x1="452.00" y1="270.20" x2="452.00" y2="271.40" stroke="#e0402a" stroke-width="0.6" />
<line x1="459.00" y1="270.20" x2="459.00" y2="271.40" stroke="#e0402a" stroke-width="0.6" />
<line x1="466.00" y1="270.20" x2="466.00" y2="271.40" stroke="#e0402a" stroke-width="0.6" />
<line x1="473.00" y1="270.20" x2="473.00" y2="271.40" stroke="#e0402a" stroke-width="0.6" />
<line x1="480.00" y1="270.20" x2="480.00" y2="271.40" stroke="#e0402a" stroke-width="0.6" />
<line x1="486.00" y1="270.20" x2="486.00" y2="271.40" stroke="#e0402a" stroke-width="0.6" />
<path d="M361.5,237.3H394.1V259.7H441.6" stroke="#b868c8" stroke-width="0.8" fill="none" />
<line x1="376.50" y1="236.20" x2="376.50" y2="237.30" stroke="#b868c8" stroke-width="0.6" />
<path d="M361.5,237.4L366,238.0L370.7,239.0L377,240.8L383.4,242.4L391.8,244.5L398,246.3L402,247.2L406.5,249.6L414.2,251.8L421.9,253.7L428.7,255.2L437.3,256.2L443,257.6L450,259.6L455,260.9L464.3,261.9L475.4,262.2V265H479.2V268H481.5V271.7H504.6" stroke="#23207a" stroke-width="1.7" fill="none" stroke-linejoin="round"/>
<line x1="446.00" y1="256.67" x2="446.00" y2="258.47" stroke="#23207a" stroke-width="0.7" />
<line x1="452.00" y1="258.41" x2="452.00" y2="260.21" stroke="#23207a" stroke-width="0.7" />
<line x1="458.00" y1="259.80" x2="458.00" y2="261.60" stroke="#23207a" stroke-width="0.7" />
<line x1="463.00" y1="259.80" x2="463.00" y2="261.60" stroke="#23207a" stroke-width="0.7" />
<line x1="468.00" y1="259.80" x2="468.00" y2="261.60" stroke="#23207a" stroke-width="0.7" />
<line x1="473.00" y1="259.80" x2="473.00" y2="261.60" stroke="#23207a" stroke-width="0.7" />
<line x1="486.00" y1="269.90" x2="486.00" y2="271.70" stroke="#23207a" stroke-width="0.7" />
<line x1="492.00" y1="269.90" x2="492.00" y2="271.70" stroke="#23207a" stroke-width="0.7" />
<line x1="498.00" y1="269.90" x2="498.00" y2="271.70" stroke="#23207a" stroke-width="0.7" />
<line x1="504.00" y1="269.90" x2="504.00" y2="271.70" stroke="#23207a" stroke-width="0.7" />
<text x="399.20" y="242.40" font-size="6.9" fill="#2a2880" textLength="110.5" lengthAdjust="spacingAndGlyphs" >no <tspan font-style="italic">TP53</tspan> mutation &amp; no <tspan font-style="italic">TP53</tspan> deletion</text>
<text x="427.80" y="268.90" font-size="6.9" fill="#b060c0" textLength="43.2" lengthAdjust="spacingAndGlyphs" ><tspan font-style="italic">TP53</tspan> mutation</text>
<text x="446.30" y="279.50" font-size="6.9" fill="#d83a26" textLength="39.6" lengthAdjust="spacingAndGlyphs" ><tspan font-style="italic">TP53</tspan> deletion</text>
<text x="414.60" y="296.90" font-size="6.9" fill="#f0a030" textLength="93.4" lengthAdjust="spacingAndGlyphs" ><tspan font-style="italic">TP53</tspan> mutation &amp; <tspan font-style="italic">TP53</tspan> deletion</text>
<rect x="0.5" y="0.5" width="519" height="367" fill="none" stroke="#4a4a4a" stroke-width="1.2"/>
</svg></body></html>
